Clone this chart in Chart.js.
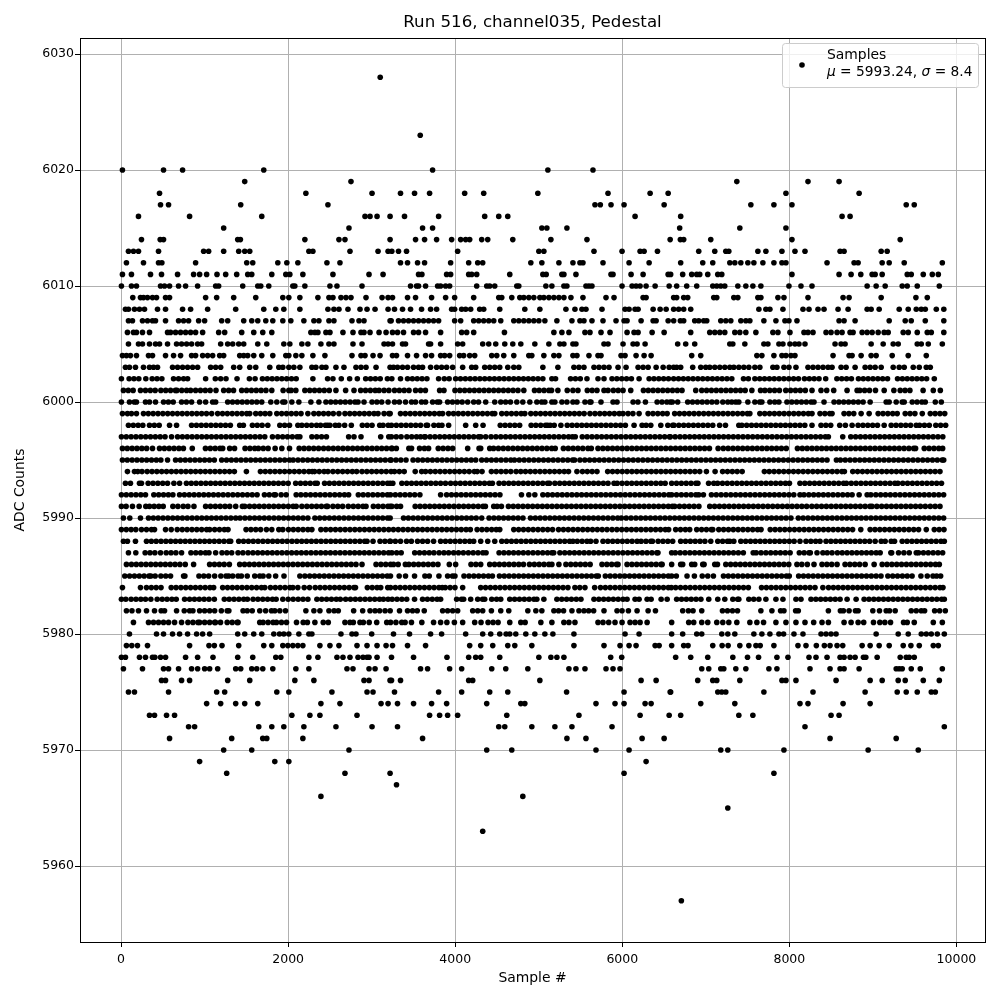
<!DOCTYPE html>
<html>
<head>
<meta charset="utf-8">
<script src="https://cdn.jsdelivr.net/npm/chart.js@4/dist/chart.umd.min.js"></script>
<style>
 body { margin: 0; background: #fff; }
 canvas { display: block; }
</style>
</head>
<body>
<canvas id="chart" width="1000" height="1000"></canvas>
<script>
 // Sample numbers, one list per ADC level.
 // Inside the merged bands single dots can't be told apart, so those are estimates.
 const s6028 = [3102];
 const s6023 = [3581];
 const s6020 = [16,508,736,1708,3729,5109,5649];
 const s6019 = [1480,2752,7371,8223,8595];
 const s6018 = [460,2212,3004,3345,3513,3693,4113,4341,4989,5829,6333,6549,7959,8835];
 const s6017 = [472,568,1432,2476,5673,5737,5865,6021,6501,7539,7815,8031,9399,9495];
 const s6016 = [208,820,1684,2920,2980,3064,3220,3393,3801,4353,4521,4629,6153,6699,8631,8727];
 const s6015 = [1228,2728,3609,3729,5037,5097,5337,6687,7407,7959];
 const s6014 = [244,468,508,1396,1428,2200,2608,2680,3220,3525,3633,3777,3957,4065,4125,4173,4317,4389,4689,5145,5577,6573,6695,6735,7059,8031,9327];
 const s6013 = [88,148,208,448,988,1048,1228,1408,1480,1540,2248,2296,2740,3076,3196,3241,3321,3417,4029,5001,5061,5661,5997,6213,6261,6421,6915,7107,7239,7275,7623,7719,7911,8067,8187,8607,8655,9099,9171];
 const s6012 = [64,268,448,488,892,1504,1576,1876,1984,2116,2464,2620,3345,3429,3549,3633,3945,4161,4269,4329,4905,5037,5241,5409,5493,5529,5769,6081,6321,6699,6963,7083,7287,7347,7419,7503,7575,7683,7815,7911,7959,8451,8775,8823,9111,9195,9375,9831];
 const s6011 = [16,124,352,484,676,868,940,1024,1148,1252,1384,1516,1564,1804,1972,2020,2176,2536,2968,3136,3561,3601,3897,3945,4161,4197,4257,4653,5049,5089,5277,5301,5445,5865,5889,6105,6249,6549,6579,6723,6831,6891,6927,7023,7143,7191,8031,8595,8739,8855,8991,9027,9111,9411,9459,9603,9711,9783];
 const s6010 = [4,124,184,472,520,580,688,772,916,1132,1168,1456,1636,1672,1768,2056,2080,2200,2500,2584,2884,3465,3537,3561,3645,3789,3825,3885,3933,4257,4377,4413,4473,4737,4761,5085,5157,5301,5337,5565,5601,5637,5997,6117,6165,6213,6285,6393,6561,6651,6771,6891,7083,7131,7179,7227,7383,7479,7563,7659,7995,8139,8271,8931,9039,9147,9351,9411,9531,9795];
 const s6009 = [140,232,268,316,376,424,532,580,1012,1144,1348,1612,1936,2008,2140,2356,2488,2536,2632,2692,2752,2932,3124,3196,3249,3429,3525,3717,3885,3993,4221,4521,4557,4677,4773,4821,4881,4941,5013,5061,5121,5181,5241,5301,5385,5529,5805,5901,6249,6285,6615,6651,6735,6783,7095,7131,7335,7383,7623,7659,7863,7935,8223,8643,8715,9099,9515,9651];
 const s6008 = [52,88,160,220,280,436,532,736,832,1036,1372,1708,1852,1948,2140,2476,2548,2608,2716,2860,2944,3040,3196,3273,3369,3465,3597,3705,3777,3957,3993,4077,4125,4185,4293,4341,4533,4833,5013,5325,5433,5517,5565,5757,6033,6081,6153,6189,6369,6453,6525,6615,6675,6735,6819,7635,7719,7767,7923,8163,8235,8343,8415,8583,8703,8931,8979,9075,9315,9423,9519,9579,9627,9759,9849];
 const s6007 = [88,136,256,316,376,412,532,688,748,808,928,1000,1204,1276,1468,1564,1636,1732,1816,1936,2032,2188,2308,2368,2488,2548,2764,2848,2908,3220,3233,3321,3381,3441,3501,3561,3621,3681,3741,3801,3993,4065,4221,4281,4341,4401,4461,4545,4701,4761,4821,4881,4941,5001,5073,5217,5397,5493,5541,5637,5769,5925,6021,6057,6225,6369,6405,6549,6615,6695,6735,6867,6915,6975,7011,7179,7239,7299,7419,7479,7527,7695,7839,7947,7995,8091,8595,8655,8787,9195,9387,9459,9627,9849];
 const s6006 = [76,148,184,256,340,556,592,652,712,772,832,892,976,1168,1240,1444,1588,1696,1804,2272,2320,2356,2452,2500,2656,2776,2872,2908,2980,3088,3172,3249,3309,3381,3501,3561,3645,3825,4077,4137,4221,4589,5181,5277,5361,5553,5613,5745,5853,6057,6141,6189,6357,6501,6819,7047,7107,7167,7227,7347,7407,7479,7599,7803,7863,8007,8175,8223,8283,8439,8499,8571,8631,8727,8763,8871,8931,8991,9063,9135,9183,9363,9423,9531,9651,9699,9849];
 const s6005 = [88,208,256,340,412,460,556,664,724,784,844,916,964,1192,1276,1336,1408,1468,1636,1744,1948,2020,2164,2236,2392,2488,2548,2776,2884,3148,3196,3249,3369,3405,3681,3705,3825,4029,4089,4329,4401,4485,4593,4689,4785,4953,5121,5253,5301,5409,5445,5781,5829,6009,6129,6177,6273,6663,6759,6867,7287,7323,7467,7695,7743,7875,7923,8007,8067,8115,8187,8547,8619,8667,8979,9123,9243,9303,9531,9579,9663,9831];
 const s6004 = [16,64,112,184,328,376,532,628,712,844,892,976,1036,1096,1180,1228,1420,1468,1516,1588,1684,1816,1972,2008,2092,2164,2296,2440,2764,2872,2920,3016,3100,3249,3297,3429,3537,3645,3717,3825,3873,3933,4053,4101,4173,4233,4437,4497,4581,4701,4881,4917,5061,5181,5241,5409,5457,5601,5709,5745,5985,6033,6165,6261,6345,6831,6939,7611,7671,7815,7911,7959,8019,8067,8523,8715,8751,8859,8979,9039,9231,9423,9639];
 const s6003 = [52,100,172,268,340,388,436,616,676,736,796,856,916,1072,1132,1192,1348,1420,1540,1612,1780,1888,1936,2008,2068,2140,2284,2332,2404,2452,2572,2668,2812,2872,2932,3052,3220,3261,3309,3369,3429,3501,3561,3609,3705,3777,3837,3897,3969,4089,4197,4245,4353,4413,4473,4533,4629,4701,4761,5049,5229,5421,5481,5541,5661,5721,5781,5841,5949,6045,6189,6249,6309,6405,6489,6561,6615,6651,6699,6843,6939,6999,7047,7107,7167,7227,7287,7335,7395,7455,7515,7587,7647,7803,7851,7935,7995,8079,8223,8283,8343,8403,8463,8511,8619,8679,8787,8907,8967,9027,9099,9243,9315,9375,9483,9555,9639,9687];
 const s6002 = [4,96,154,212,296,372,430,488,628,688,748,796,1012,1128,1192,1256,1388,1536,1604,1692,1750,1808,1866,1924,1982,2040,2096,2296,2472,2536,2636,2736,2828,2928,2986,3044,3102,3188,3241,3345,3429,3487,3545,3603,3661,3801,3869,3927,4005,4063,4121,4179,4237,4295,4353,4411,4469,4527,4585,4643,4701,4759,4817,4875,4933,4991,5049,5157,5201,5381,5439,5497,5577,5709,5781,5877,5935,5993,6051,6109,6201,6321,6379,6437,6495,6553,6615,6673,6731,6789,6847,6905,6963,7021,7079,7137,7195,7253,7311,7451,7509,7587,7645,7703,7761,7819,7877,7935,7993,8051,8109,8181,8239,8297,8355,8435,8569,8627,8685,8743,8827,8885,8943,9001,9059,9117,9175,9295,9353,9411,9469,9527,9585,9643,9735];
 const s6001 = [28,86,144,232,292,350,408,476,534,592,650,668,726,784,832,892,950,1008,1066,1136,1228,1288,1346,1444,1502,1560,1618,1676,1734,1804,1940,2008,2036,2092,2200,2258,2316,2374,2432,2492,2572,2688,2788,2868,2926,2984,3042,3088,3148,3206,3273,3331,3389,3447,3525,3585,3643,3813,3865,3997,4055,4113,4171,4229,4287,4345,4403,4461,4519,4577,4635,4693,4751,4821,4949,5005,5063,5121,5153,5229,5341,5409,5469,5581,5639,5697,5781,5829,5893,5951,6009,6101,6253,6311,6369,6427,6485,6543,6601,6659,6715,6879,6951,7009,7067,7125,7183,7241,7299,7357,7415,7471,7551,7655,7707,7765,7823,7881,7957,8015,8073,8131,8191,8271,8379,8447,8531,8691,8811,8843,8901,8959,9031,9135,9251,9327,9385,9443,9601,9723,9807];
 const s6000 = [4,100,158,184,292,340,412,508,566,624,724,782,844,940,1012,1096,1132,1276,1334,1392,1450,1508,1566,1624,1684,1792,1864,1936,1960,2044,2128,2272,2368,2452,2510,2568,2626,2684,2742,2800,2836,2908,3004,3062,3120,3196,3273,3331,3405,3477,3525,3597,3645,3729,3785,3813,3909,3967,4025,4083,4149,4221,4279,4365,4473,4545,4603,4661,4737,4809,4893,4977,5035,5073,5157,5193,5277,5337,5409,5457,5553,5611,5625,5745,5889,5937,6129,6187,6277,6417,6475,6533,6575,6599,6663,6783,6841,6899,6957,7015,7073,7131,7203,7263,7311,7359,7395,7503,7587,7645,7671,7767,7825,7875,7971,8029,8087,8145,8203,8261,8295,8415,8535,8593,8651,8709,8767,8825,8883,8967,9159,9195,9279,9351,9375,9471,9529,9587,9627,9747,9819];
 const s5999 = [16,76,124,184,268,326,384,442,500,558,616,674,732,790,848,906,964,1022,1084,1156,1214,1272,1330,1388,1446,1504,1540,1612,1668,1724,1780,1864,1922,1980,2038,2096,2154,2236,2308,2366,2424,2482,2540,2608,2680,2738,2796,2854,2912,2970,3028,3076,3148,3206,3221,3345,3403,3461,3519,3577,3635,3693,3751,3809,3849,3921,3979,4037,4095,4153,4211,4269,4327,4385,4443,4473,4557,4615,4673,4731,4789,4833,4905,4963,5021,5079,5137,5195,5253,5311,5369,5427,5485,5543,5613,5673,5731,5789,5847,5905,5963,6009,6069,6127,6201,6309,6367,6425,6483,6537,6627,6685,6743,6801,6859,6917,6975,7033,7091,7149,7207,7265,7323,7381,7439,7497,7527,7647,7705,7763,7821,7879,7937,7995,8053,8111,8169,8227,8271,8367,8425,8483,8511,8655,8713,8771,8859,8955,9063,9121,9179,9237,9291,9387,9445,9503,9591,9687,9745,9803,9860];
 const s5998 = [88,146,204,260,340,398,456,580,664,844,902,960,1018,1076,1134,1192,1250,1308,1420,1464,1572,1630,1688,1756,1900,1958,2016,2116,2164,2222,2280,2340,2388,2446,2472,2500,2564,2608,2676,2756,2888,2946,3004,3096,3136,3198,3237,3295,3353,3411,3469,3527,3585,3653,3669,3745,3801,3841,3921,4125,4245,4333,4539,4597,4655,4713,4771,4909,4965,5023,5081,5105,5137,5185,5265,5341,5399,5457,5515,5573,5631,5689,5747,5805,5863,5921,5979,6037,6141,6237,6285,6341,6461,6545,6603,6619,6677,6735,6793,6851,6909,6967,7025,7083,7165,7235,7395,7431,7489,7547,7605,7663,7721,7779,7837,7895,7953,8011,8069,8127,8185,8271,8379,8437,8495,8603,8671,8751,8823,8881,8939,8997,9055,9135,9219,9277,9335,9393,9451,9519,9559,9617,9675,9753,9811,9871];
 const s5997 = [4,62,120,178,236,294,352,410,468,526,604,676,734,792,850,908,966,1024,1082,1140,1198,1256,1314,1372,1430,1488,1546,1604,1662,1720,1812,1876,1934,1992,2050,2108,2140,2284,2342,2400,2458,2724,2788,2872,3108,3204,3236,3294,3352,3421,3479,3537,3585,3633,3641,3699,3757,3815,3873,3931,3989,4047,4105,4163,4221,4279,4305,4365,4429,4487,4545,4603,4661,4719,4777,4835,4893,4951,5009,5067,5125,5183,5241,5299,5357,5403,5437,5521,5579,5637,5695,5753,5811,5869,5927,5985,6043,6101,6159,6217,6275,6333,6391,6449,6507,6565,6575,6633,6691,6749,6807,6865,6923,6981,7039,7097,7155,7213,7271,7329,7387,7445,7503,7561,7619,7677,7735,7793,7851,7909,7967,8025,8083,8141,8199,8257,8315,8373,8431,8467,8639,8735,8793,8851,8909,8967,9025,9083,9141,9199,9257,9315,9373,9431,9489,9547,9605,9663,9721,9779,9837];
 const s5996 = [16,74,132,190,248,306,376,460,518,576,634,692,746,852,1010,1068,1126,1184,1216,1300,1358,1484,1542,1600,1644,1702,1760,1844,1924,2016,2132,2190,2248,2306,2364,2424,2482,2540,2598,2656,2714,2772,2830,2888,2946,3004,3062,3120,3178,3236,3245,3295,3445,3477,3573,3631,3681,3797,3855,3913,3969,4149,4285,4305,4413,4459,4517,4575,4633,4691,4749,4807,4865,4923,4981,5039,5097,5155,5197,5295,5353,5411,5469,5527,5589,5629,5709,5767,5825,5883,5941,5999,6057,6115,6173,6231,6289,6347,6405,6463,6521,6579,6637,6695,6753,6811,6869,6927,6985,7043,7147,7209,7267,7325,7383,7441,7499,7557,7615,7673,7731,7789,7847,7905,7963,8097,8155,8213,8271,8329,8387,8445,8503,8561,8619,8677,8735,8793,8851,8909,8967,9025,9083,9141,9199,9257,9315,9373,9431,9489,9511,9615,9673,9731,9789,9835];
 const s5995 = [16,74,132,190,248,306,364,422,476,556,652,710,768,826,884,942,1000,1058,1116,1204,1262,1320,1378,1436,1494,1552,1610,1668,1726,1784,1842,1900,1958,2016,2060,2118,2176,2234,2292,2350,2408,2466,2524,2582,2640,2698,2756,2814,2872,2930,2988,3046,3104,3162,3220,3233,3291,3349,3411,3495,3553,3611,3669,3727,3785,3843,3901,3959,4017,4075,4133,4191,4245,4317,4375,4433,4491,4549,4607,4665,4709,4767,4825,4883,4941,4999,5057,5115,5173,5231,5289,5347,5405,5429,5493,5551,5609,5667,5725,5783,5841,5899,5957,6015,6073,6131,6189,6247,6305,6363,6421,6479,6537,6595,6653,6711,6769,6827,6885,6943,7001,7059,7117,7175,7233,7291,7349,7407,7465,7523,7581,7639,7697,7755,7813,7871,7929,7987,8045,8103,8161,8219,8277,8335,8393,8451,8563,8611,8669,8727,8785,8843,8901,8959,9017,9075,9133,9191,9249,9307,9365,9423,9481,9539,9597,9655,9713,9771,9829,9848];
 const s5994 = [76,160,200,250,312,370,428,486,544,602,660,718,776,834,892,950,1008,1066,1124,1182,1240,1298,1356,1500,1668,1726,1784,1842,1900,1958,2016,2074,2132,2190,2248,2288,2316,2372,2430,2476,2536,2594,2652,2710,2768,2820,2884,2942,3000,3058,3116,3174,3232,3273,3331,3389,3521,3598,3645,3703,3761,3819,3877,3935,3993,4051,4109,4167,4229,4263,4321,4433,4491,4549,4607,4665,4729,4785,4841,4899,4957,5015,5073,5131,5189,5247,5305,5356,5457,5523,5581,5639,5697,5825,5883,5941,5999,6057,6115,6173,6231,6289,6347,6405,6463,6521,6579,6637,6695,6753,6811,6869,6927,7007,7111,7201,7259,7317,7375,7435,7701,7759,7817,7875,7933,7991,8049,8107,8165,8223,8281,8339,8397,8455,8513,8571,8629,8659,8759,8817,8875,8933,8991,9049,9107,9165,9223,9281,9339,9397,9455,9513,9571,9629,9687,9745,9803];
 const s5993 = [52,112,220,244,324,382,440,498,556,632,700,782,840,898,956,1014,1072,1130,1188,1246,1304,1362,1420,1478,1536,1594,1652,1710,1768,1826,1884,1942,2000,2090,2148,2206,2264,2322,2348,2436,2494,2552,2610,2668,2726,2784,2842,2900,2958,3016,3074,3132,3190,3221,3253,3361,3419,3477,3535,3593,3651,3709,3767,3825,3883,3945,4003,4061,4119,4177,4235,4293,4351,4409,4445,4525,4583,4641,4699,4757,4815,4873,4931,4989,5047,5105,5129,5193,5251,5309,5367,5425,5483,5541,5599,5657,5715,5773,5829,5901,5939,5997,6055,6113,6171,6229,6287,6345,6403,6461,6513,6591,6649,6707,6765,6823,6881,6905,7033,7095,7141,7199,7257,7315,7373,7431,7489,7547,7605,7663,7721,7779,7837,7895,7953,8001,8127,8185,8243,8301,8359,8417,8475,8533,8591,8649,8683,8741,8799,8857,8915,8973,9031,9089,9147,9205,9263,9299,9357,9415,9473,9531,9589,9647,9705,9763,9821];
 const s5992 = [4,62,120,178,236,292,392,450,508,566,620,700,758,816,874,932,990,1048,1106,1164,1222,1280,1338,1396,1454,1512,1570,1628,1716,1774,1832,1848,1916,1976,2096,2152,2210,2268,2326,2384,2442,2500,2558,2616,2674,2724,2840,2898,2956,3014,3072,3130,3188,3225,3283,3341,3399,3457,3515,3577,3825,3897,3955,4013,4071,4129,4187,4245,4303,4361,4419,4477,4535,4793,4881,4953,5049,5107,5165,5223,5281,5339,5397,5455,5513,5571,5629,5687,5745,5803,5861,5919,5977,6035,6093,6151,6209,6267,6325,6383,6441,6499,6557,6591,6649,6707,6765,6823,6881,6915,6971,7067,7125,7183,7241,7299,7357,7415,7473,7531,7589,7647,7705,7763,7821,7879,7937,7995,8053,8127,8175,8233,8291,8349,8407,8465,8523,8581,8639,8697,8751,8835,8931,8975,9035,9093,9151,9209,9267,9325,9383,9441,9499,9557,9615,9673,9731,9789,9847];
 const s5991 = [4,60,136,216,296,340,396,452,504,620,680,744,800,872,1012,1070,1128,1186,1244,1300,1372,1452,1480,1538,1596,1654,1712,1770,1828,1886,1944,2002,2060,2096,2164,2224,2282,2340,2398,2456,2472,2536,2594,2652,2720,2780,2838,2896,2932,3020,3078,3136,3194,3221,3241,3299,3345,3521,3579,3637,3695,3753,3811,3869,3927,3985,4043,4101,4159,4217,4275,4333,4361,4461,4501,4553,4637,4695,4753,4811,4869,4927,4985,5043,5101,5159,5217,5275,5333,5391,5449,5507,5565,5623,5681,5739,5797,5855,5913,5971,6029,6087,6145,6203,6261,6319,6377,6435,6493,6551,6599,6627,6685,6743,6801,6859,6917,7047,7105,7163,7221,7279,7337,7395,7453,7511,7569,7627,7685,7743,7801,7859,7917,7975,8033,8091,8149,8207,8269,8327,8385,8443,8501,8559,8617,8675,8733,8791,8849,8907,8965,8989,9047,9105,9163,9221,9279,9337,9395,9453,9511,9569,9627,9687,9745,9803];
 const s5990 = [28,104,232,328,386,444,502,560,618,676,734,792,850,908,966,1024,1082,1140,1198,1256,1314,1372,1424,1482,1540,1598,1656,1714,1772,1830,1888,1946,2004,2062,2120,2178,2236,2320,2378,2436,2494,2552,2610,2668,2726,2784,2842,2900,2958,3016,3074,3132,3190,3221,3381,3439,3497,3555,3613,3671,3729,3787,3845,3903,3961,4019,4077,4135,4193,4251,4317,4405,4463,4521,4579,4637,4695,4753,4811,4901,4959,5017,5075,5133,5191,5249,5307,5365,5423,5481,5539,5597,5655,5713,5771,5829,5887,5945,5989,6047,6105,6163,6221,6279,6337,6395,6453,6511,6569,6627,6685,6743,6801,6859,6917,6975,7033,7091,7149,7207,7265,7323,7381,7439,7497,7555,7613,7671,7729,7787,7845,7903,7961,8019,8107,8165,8223,8281,8339,8397,8455,8513,8571,8629,8687,8745,8803,8861,8919,8977,9035,9093,9151,9209,9267,9325,9383,9441,9499,9557,9615,9673,9731,9789,9847];
 const s5989 = [4,62,120,176,244,304,364,400,532,600,672,732,790,848,906,964,1024,1060,1120,1178,1236,1280,1496,1554,1612,1670,1740,1804,1888,1936,2004,2062,2120,2178,2236,2284,2392,2450,2508,2566,2624,2682,2740,2798,2856,2914,2972,3030,3088,3146,3204,3260,3318,3376,3434,3492,3550,3608,3666,3724,3782,3840,3898,3956,4014,4072,4130,4181,4262,4320,4378,4436,4491,4533,4701,4759,4817,4875,4933,4991,5049,5107,5165,5237,5295,5353,5411,5469,5527,5585,5643,5701,5759,5817,5877,5935,5993,6051,6109,6167,6225,6283,6341,6399,6457,6515,6555,6639,6697,6755,6807,6891,6949,7007,7065,7083,7155,7213,7271,7329,7387,7445,7503,7561,7619,7661,7771,7829,7887,7945,8003,8061,8119,8177,8235,8293,8351,8409,8467,8525,8583,8641,8699,8757,8855,8967,9025,9083,9141,9199,9257,9315,9373,9431,9489,9547,9639,9735,9793,9851];
 const s5988 = [28,76,172,304,362,420,478,536,594,652,710,768,826,884,942,1000,1058,1116,1174,1232,1290,1312,1408,1466,1524,1582,1640,1698,1756,1814,1872,1930,1988,2046,2104,2162,2220,2278,2336,2394,2452,2510,2568,2626,2684,2742,2800,2858,2916,2944,3016,3100,3158,3216,3225,3283,3345,3417,3475,3549,3609,3669,3741,3825,3883,3941,3999,4057,4115,4173,4221,4305,4389,4473,4557,4615,4673,4731,4789,4847,4905,4963,5021,5079,5137,5195,5253,5311,5369,5409,5461,5519,5577,5621,5685,5769,5827,5885,5943,6001,6059,6117,6177,6225,6283,6341,6361,6429,6487,6545,6603,6699,6757,6815,6873,6931,6989,7059,7143,7201,7259,7287,7335,7419,7477,7535,7593,7651,7709,7767,7825,7883,7941,7999,8057,8127,8199,8257,8315,8367,8439,8497,8555,8613,8671,8729,8787,8845,8903,8961,9027,9099,9147,9219,9259,9351,9409,9467,9525,9583,9641,9699,9757,9815,9855];
 const s5987 = [88,176,288,346,404,472,540,598,656,724,836,894,952,1010,1052,1132,1208,1266,1324,1400,1458,1520,1578,1636,1694,1752,1810,1868,1926,1984,2042,2100,2158,2216,2274,2332,2390,2448,2506,2564,2622,2680,2738,2796,2854,2912,2970,3028,3086,3144,3202,3241,3299,3353,3515,3573,3631,3689,3745,3807,3865,3921,3981,4039,4097,4157,4215,4273,4331,4369,4525,4583,4641,4699,4757,4815,4873,4931,4989,5047,5105,5157,5179,5253,5311,5369,5427,5485,5543,5601,5659,5717,5775,5833,5891,5949,6007,6065,6123,6181,6239,6297,6355,6413,6427,6591,6635,6693,6751,6809,6867,6925,6983,7041,7099,7157,7215,7273,7331,7389,7449,7567,7603,7661,7719,7777,7835,7893,7951,8009,8119,8177,8235,8251,8331,8401,8453,8511,8575,8633,8691,8749,8807,8865,8923,8981,9039,9087,9215,9225,9307,9371,9435,9519,9547,9605,9663,9721,9779,9835];
 const s5986 = [64,124,182,240,298,356,414,472,530,588,646,704,768,868,1060,1118,1176,1234,1296,1420,1478,1536,1594,1652,1710,1768,1826,1884,1942,2000,2058,2116,2174,2232,2290,2348,2406,2464,2522,2580,2638,2696,2754,2812,2884,3052,3110,3168,3226,3261,3317,3403,3445,3503,3561,3619,3677,3735,3793,3929,4005,4189,4247,4305,4413,4471,4529,4587,4645,4703,4761,4817,4889,4947,5005,5063,5121,5157,5241,5325,5383,5441,5499,5557,5615,5757,5815,5873,5931,5949,6057,6115,6173,6231,6289,6347,6405,6463,6477,6591,6699,6723,6831,6867,6963,6979,7107,7139,7239,7297,7355,7413,7471,7529,7587,7645,7703,7761,7819,7877,7935,7993,8091,8149,8215,8295,8391,8449,8507,8571,8667,8725,8783,8841,8907,9015,9111,9169,9227,9285,9343,9401,9459,9517,9575,9633,9691,9749,9795];
 const s5985 = [44,102,160,218,276,334,356,408,476,534,592,748,764,932,990,1048,1120,1194,1256,1288,1336,1400,1440,1510,1600,1660,1700,1768,1850,1950,2140,2200,2258,2316,2374,2432,2490,2548,2606,2664,2722,2780,2838,2896,2954,3012,3070,3128,3186,3225,3329,3405,3513,3637,3689,3805,3909,3967,3997,4105,4165,4223,4281,4339,4397,4445,4529,4587,4645,4703,4761,4819,4877,4935,4993,5051,5109,5167,5225,5283,5341,5399,5457,5515,5573,5631,5689,5713,5797,5855,5913,5971,6029,6087,6145,6203,6261,6319,6377,6435,6493,6551,6591,6647,6775,6863,6957,7023,7091,7211,7269,7327,7385,7443,7501,7559,7617,7675,7733,7791,7849,7907,7965,7999,8111,8169,8227,8285,8343,8401,8459,8517,8575,8633,8691,8749,8807,8865,8923,8981,9039,9097,9179,9237,9295,9353,9411,9469,9575,9651,9719,9763,9811];
 const s5984 = [16,232,304,362,420,478,600,658,716,774,832,890,948,1006,1064,1108,1216,1274,1332,1390,1448,1506,1564,1622,1680,1720,1788,1846,1904,1962,2020,2056,2116,2192,2256,2324,2382,2440,2498,2556,2614,2672,2730,2788,2806,2948,3006,3064,3108,3192,3225,3283,3341,3399,3457,3515,3573,3631,3689,3747,3805,3845,3881,3939,3997,4089,4305,4363,4421,4479,4537,4595,4653,4711,4769,4827,4885,4943,5001,5059,5117,5175,5233,5291,5349,5433,5491,5553,5669,5739,5797,5855,5913,5971,6029,6087,6145,6203,6261,6319,6377,6435,6493,6551,6587,6639,6697,6755,6813,6871,6929,6987,7045,7103,7161,7219,7277,7335,7393,7451,7509,7667,7725,7783,7841,7899,7957,8015,8073,8131,8189,8247,8307,8401,8469,8527,8585,8643,8701,8759,8817,8875,8933,8991,9049,9107,9165,9223,9281,9339,9397,9455,9513,9571,9629,9687,9745,9803,9839];
 const s5983 = [4,56,120,178,236,292,356,432,492,550,608,660,760,820,878,936,994,1052,1116,1236,1294,1352,1410,1468,1512,1580,1638,1696,1754,1812,1856,1936,2000,2060,2120,2178,2236,2344,2402,2460,2518,2576,2624,2688,2746,2804,2862,2920,2978,3036,3094,3140,3196,3245,3303,3361,3419,3513,3609,3667,3725,3783,3825,4017,4075,4101,4185,4269,4327,4353,4437,4495,4545,4653,4711,4769,4827,4885,4943,4977,5061,5217,5275,5333,5391,5449,5505,5661,5719,5777,5835,5893,5951,6009,6057,6153,6201,6297,6345,6465,6537,6651,6709,6767,6825,6883,6941,7035,7143,7227,7323,7381,7395,7515,7573,7635,7719,7839,7923,8079,8139,8259,8317,8375,8433,8491,8549,8607,8691,8799,8895,8953,9011,9069,9127,9185,9243,9301,9359,9417,9475,9533,9591,9649,9707,9765,9823,9855];
 const s5982 = [64,130,208,304,400,480,520,664,756,820,860,940,1000,1060,1120,1200,1270,1290,1460,1510,1570,1660,1730,1800,1840,1900,1968,2212,2308,2380,2488,2550,2600,2784,2892,2980,3040,3095,3160,3221,3333,3429,3489,3545,3629,3849,3909,3969,4029,4209,4269,4329,4433,4545,4641,4869,4965,5037,5181,5237,5297,5397,5481,5541,5597,5657,5781,5937,5997,6073,6177,6309,6397,6723,6791,6847,6951,7199,7259,7319,7379,7659,7791,7895,7935,8075,8107,8467,8611,8647,8715,8791,8823,8999,9079,9159,9199,9267,9459,9519,9579,9619,9739,9799,9867];
 const s5981 = [148,328,388,448,508,568,640,724,800,860,920,940,1000,1060,1120,1130,1190,1270,1330,1390,1400,1700,1760,1820,1660,1860,1920,1980,2100,2180,2230,2320,2420,2480,2680,2740,2780,2860,2900,2970,3060,3180,3226,3290,3360,3400,3476,3600,3741,3825,3900,3990,4089,4233,4309,4393,4453,4513,4653,4785,4837,5025,5157,5301,5361,5433,5709,5769,5837,5913,5997,6093,6153,6213,6297,6591,6795,6855,6951,7023,7131,7203,7275,7371,7527,7611,7691,7839,7959,8079,8187,8291,8391,8467,8655,8739,8823,8890,9007,9083,9143,9211,9367,9411,9495,9723,9831];
 const s5980 = [100,424,508,616,700,796,904,976,1060,1396,1480,1588,1684,1828,1896,1948,2008,2128,2248,2284,2632,2764,2812,3000,3261,3453,3705,3837,4125,4329,4425,4533,4609,4653,4725,4845,4953,5073,5169,5421,6033,6201,6591,6723,6891,6951,7191,7263,7347,7575,7671,7767,7875,7931,8055,8163,8379,8439,8499,8559,9039,9303,9423,9579,9639,9699,9771,9855];
 const s5979 = [64,128,196,316,820,1052,1116,1208,1408,1708,1804,1936,1996,2056,2116,2176,2380,2500,2608,2824,2944,3064,3172,3249,3429,3645,4173,4305,4449,4629,4713,4917,5421,5781,5973,6081,6165,6393,6441,6591,6735,6787,7083,7195,7267,7407,7515,7600,7651,7815,8103,8199,8323,8419,8487,8571,8639,8871,8967,9075,9195,9363,9455,9555,9723,9783];
 const s5978 = [4,52,220,292,376,404,472,532,772,916,1100,1396,1576,1852,1912,2248,2356,2584,2656,2740,2836,2896,2944,2968,3064,3237,3501,3901,4161,4245,4305,4533,5001,5145,5217,5301,5861,5993,6639,6819,7023,7323,7499,7631,7851,7983,8235,8319,8451,8607,8655,8727,8787,8887,8915,9051,9327,9399,9435,9495];
 const s5977 = [28,256,508,568,688,844,916,1000,1060,1156,1372,1432,1564,1624,1696,1816,2092,2248,2704,2776,2968,3040,3172,3585,3669,3933,4077,4437,4605,4869,5361,5445,5553,5805,5889,5973,6951,7035,7179,7215,7359,7479,7755,7851,8247,8487,8607,8655,8835,9279,9315,9351,9459,9567,9831];
 const s5976 = [484,532,724,820,1276,1540,2080,2308,2908,2968,3220,3237,3345,4161,4209,5013,6225,6405,6903,7083,7131,7407,7911,7959,8079,8559,8967,9111,9303,9387,9603,9795];
 const s5975 = [88,160,568,1144,1240,1864,2008,2524,2944,3016,3273,3801,4077,4413,4629,5333,6021,6573,6579,7143,7191,7239,7695,8283,8907,9291,9399,9531,9699,9747];
 const s5974 = [1024,1192,1372,1480,1636,2392,2620,3112,3196,3309,3501,3717,3897,4377,4785,4833,5685,5913,6021,6273,6345,6939,7347,8127,8223,8643,8967];
 const s5973 = [340,400,544,640,2044,2260,2380,2824,3693,3813,3909,4029,4617,5481,6213,6561,6699,7395,7563,8499,8595];
 const s5972 = [808,880,1648,1804,1948,2188,2572,3004,3309,4521,4593,4917,5193,5397,5877,8187,9855];
 const s5971 = [580,1324,1696,1744,2176,3609,5337,5565,6237,6501,8487,9279];
 const s5970 = [1228,1564,2728,4377,4677,5685,6081,7179,7263,7935,8943,9543];
 const s5969 = [940,1840,2008,6285];
 const s5968 = [1264,2680,3220,6021,7815];
 const s5967 = [3297];
 const s5966 = [2392,4809];
 const s5965 = [7263];
 const s5963 = [4329];
 const s5957 = [6707];

 const levels = [6028,6023,6020,6019,6018,6017,6016,6015,6014,6013,6012,6011,6010,6009,6008,6007,6006,6005,6004,6003,6002,6001,6000,5999,5998,5997,5996,5995,5994,5993,5992,5991,5990,5989,5988,5987,5986,5985,5984,5983,5982,5981,5980,5979,5978,5977,5976,5975,5974,5973,5972,5971,5970,5969,5968,5967,5966,5965,5963,5957];
 const samples = [s6028,s6023,s6020,s6019,s6018,s6017,s6016,s6015,s6014,s6013,s6012,s6011,s6010,s6009,s6008,s6007,s6006,s6005,s6004,s6003,s6002,s6001,s6000,s5999,s5998,s5997,s5996,s5995,s5994,s5993,s5992,s5991,s5990,s5989,s5988,s5987,s5986,s5985,s5984,s5983,s5982,s5981,s5980,s5979,s5978,s5977,s5976,s5975,s5974,s5973,s5972,s5971,s5970,s5969,s5968,s5967,s5966,s5965,s5963,s5957];

 const xTicks = [0, 2000, 4000, 6000, 8000, 10000];
 const yTicks = [5960, 5970, 5980, 5990, 6000, 6010, 6020, 6030];

 let points = [];
 levels.forEach((level, i) => {
     for (let x of samples[i]) points.push({ x: x, y: level });
 });

 const fontName = '"DejaVu Sans"';

 // Top and right spines plus the legend box, Chart.js can't put a legend inside the plot
 const framePlugin = {
     id: 'frame',
     afterDraw(chart) {
         const ctx = chart.ctx;
         const a = chart.chartArea;
         ctx.save();
         ctx.strokeStyle = '#000';
         ctx.lineWidth = 1;
         ctx.strokeRect(a.left + 0.5, a.top + 0.5, a.width, a.height);

         ctx.beginPath();
         ctx.roundRect(782.5, 43.5, 196, 44, 3);
         ctx.fillStyle = 'rgba(255,255,255,0.8)';
         ctx.fill();
         ctx.strokeStyle = '#cccccc';
         ctx.stroke();

         ctx.fillStyle = '#000';
         ctx.beginPath();
         ctx.arc(802, 65, 2.8, 0, Math.PI * 2);
         ctx.fill();

         ctx.textBaseline = 'alphabetic';
         ctx.font = '13.9px ' + fontName;
         ctx.fillText('Samples', 827, 59);
         let x = 827;
         const parts = [['italic', 'μ'], ['normal', ' = 5993.24, '], ['italic', 'σ'], ['normal', ' = 8.4']];
         for (let p of parts) {
             ctx.font = p[0] + ' 13.75px ' + fontName;
             ctx.fillText(p[1], x, 76);
             x += ctx.measureText(p[1]).width;
         }
         ctx.restore();
     }
 };

 var chart = new Chart(document.getElementById('chart').getContext('2d'), {
     type: 'scatter',
     data: {
         datasets: [{
             label: 'Samples',
             data: points,
             pointRadius: 2.8,
             pointBackgroundColor: '#000',
             pointBorderWidth: 0
         }]
     },
     options: {
         responsive: false,
         animation: false,
         layout: { padding: { right: 15 } },
         plugins: {
             legend: { display: false },
             tooltip: { enabled: false },
             title: {
                 display: true,
                 text: 'Run 516, channel035, Pedestal',
                 color: '#000',
                 fullSize: false,
                 font: { family: fontName, size: 16.67, weight: 'normal', lineHeight: 1 },
                 padding: { top: 14, bottom: 7.33 }
             }
         },
         scales: {
             x: {
                 type: 'linear',
                 min: -492,
                 max: 10342,
                 afterBuildTicks: scale => { scale.ticks = xTicks.map(v => ({ value: v })); },
                 afterFit: scale => { scale.height = 58; },
                 grid: { color: '#b0b0b0', lineWidth: 1, tickColor: '#000', tickLength: 5 },
                 border: { color: '#000' },
                 ticks: { color: '#000', padding: 5, maxRotation: 0, font: { family: fontName, size: 12.5 }, callback: v => String(v) },
                 title: { display: true, text: 'Sample #', color: '#000', font: { family: fontName, size: 13.9, lineHeight: 1 }, padding: { top: 0, bottom: 15 } }
             },
             y: {
                 type: 'linear',
                 min: 5953.45,
                 max: 6031.38,
                 afterBuildTicks: scale => { scale.ticks = yTicks.map(v => ({ value: v })); },
                 afterFit: scale => { scale.width = 80; },
                 grid: { color: '#b0b0b0', lineWidth: 1, tickColor: '#000', tickLength: 5 },
                 border: { color: '#000' },
                 ticks: { color: '#000', padding: 1, font: { family: fontName, size: 12.5 }, callback: v => String(v) },
                 title: { display: true, text: 'ADC Counts', color: '#000', font: { family: fontName, size: 13.9, lineHeight: 1 }, padding: { top: 13, bottom: 0 } }
             }
         }
     },
     plugins: [framePlugin]
 });
</script>
</body>
</html>
